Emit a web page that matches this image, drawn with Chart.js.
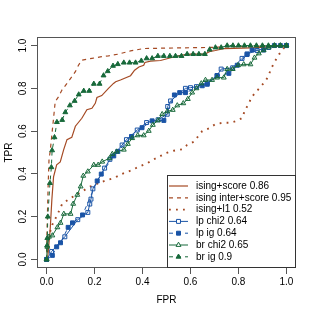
<!DOCTYPE html>
<html><head><meta charset="utf-8">
<script src="https://cdn.jsdelivr.net/npm/chart.js@4/dist/chart.umd.min.js"></script>
<style>html,body{margin:0;padding:0;background:#fff}canvas{display:block}</style>
</head><body>
<canvas id="c" width="315" height="315"></canvas>
<script>
const seriesLabels = ['ising+score 0.86','ising inter+score 0.95','ising+l1 0.52','lp chi2 0.64','lp ig 0.64','br chi2 0.65','br ig 0.9'];
const xTicks = [0,0.2,0.4,0.6,0.8,1.0];
const xTickLabels = ['0.0','0.2','0.4','0.6','0.8','1.0'];
const yTicks = [0,0.2,0.4,0.6,0.8,1.0];
const yTickLabels = ['0.0','0.2','0.4','0.6','0.8','1.0'];
const xTitle = 'FPR';
const yTitle = 'TPR';

const isingScoreFpr = [0,0.004,0.015,0.022,0.029,0.042,0.057,0.071,0.085,0.105,0.12,0.147,0.168,0.189,0.203,0.21,0.23,0.258,0.279,0.288,0.308,0.35,0.367,0.385,0.405,0.41,0.433,0.475,0.5375,0.565,0.6,0.66,0.683,0.704,0.7375,0.78,0.85,0.92,1.0];
const isingScoreTpr = [0,0,0.14,0.28,0.386,0.442,0.456,0.512,0.56,0.571,0.623,0.66,0.70,0.707,0.73,0.757,0.766,0.80,0.823,0.831,0.839,0.859,0.885,0.90,0.908,0.921,0.927,0.93,0.949,0.955,0.96,0.96,0.973,0.977,0.986,0.987,0.989,0.992,1.0];

const isingInterFpr = [0,0.002,0.006,0.01,0.015,0.022,0.029,0.036,0.05,0.064,0.085,0.105,0.12,0.133,0.147,0.189,0.224,0.258,0.30,0.35,0.405,0.447,0.545,0.6625,1.0];
const isingInterTpr = [0,0.14,0.326,0.465,0.506,0.583,0.66,0.738,0.761,0.792,0.823,0.854,0.878,0.908,0.932,0.94,0.947,0.952,0.96,0.975,0.986,0.987,0.989,0.991,1.0];

const isingL1Fpr = [0,0.008,0.017,0.024,0.045,0.065,0.1,0.142,0.176,0.218,0.253,0.28,0.315,0.35,0.392,0.42,0.447,0.475,0.503,0.53,0.565,0.586,0.614,0.649,0.68,0.704,0.735,0.767,0.795,0.818,0.826,0.843,0.853,0.875,0.895,0.915,0.928,0.94,0.954,0.97,0.99,1.0];
const isingL1Tpr = [0,0.093,0.14,0.163,0.209,0.26,0.287,0.313,0.338,0.357,0.372,0.38,0.40,0.415,0.437,0.45,0.468,0.484,0.499,0.508,0.515,0.535,0.55,0.6,0.614,0.633,0.639,0.639,0.648,0.663,0.698,0.726,0.757,0.785,0.811,0.837,0.868,0.9,0.93,0.96,0.989,1.0];

const lpChi2Fpr = [0,0.021,0.076,0.13,0.172,0.18,0.185,0.193,0.242,0.264,0.315,0.333,0.378,0.417,0.465,0.503,0.505,0.517,0.579,0.60,0.625,0.67,0.711,0.728,0.776,0.815,0.836,0.878,0.926,0.975,1];
const lpChi2Tpr = [0,0.037,0.106,0.186,0.22,0.259,0.282,0.33,0.427,0.468,0.535,0.56,0.605,0.64,0.653,0.679,0.715,0.741,0.80,0.803,0.808,0.825,0.86,0.89,0.896,0.94,0.961,0.977,0.991,1,1];

const lpIgFpr = [0,0.024,0.042,0.058,0.09,0.108,0.15,0.211,0.228,0.28,0.297,0.354,0.398,0.44,0.489,0.533,0.555,0.579,0.649,0.67,0.711,0.76,0.795,0.836,0.857,0.905,0.95,1];
const lpIgTpr = [0,0.019,0.059,0.078,0.15,0.171,0.208,0.367,0.399,0.484,0.505,0.575,0.616,0.648,0.65,0.769,0.78,0.78,0.812,0.819,0.859,0.87,0.908,0.958,0.979,0.979,1,1];

const brChi2Fpr = [0,0.003,0.01,0.024,0.045,0.058,0.072,0.10,0.111,0.128,0.142,0.153,0.172,0.197,0.215,0.232,0.2625,0.274,0.292,0.322,0.339,0.357,0.38,0.405,0.426,0.443,0.464,0.482,0.503,0.526,0.545,0.57,0.589,0.607,0.625,0.645,0.6625,0.69,0.711,0.739,0.753,0.776,0.799,0.822,0.85,0.867,0.885,0.905,0.926,0.95,0.975,1];
const brChi2Tpr = [0,0.059,0.106,0.112,0.15,0.171,0.213,0.213,0.26,0.302,0.341,0.391,0.411,0.442,0.442,0.457,0.473,0.493,0.504,0.513,0.54,0.567,0.58,0.58,0.601,0.629,0.65,0.679,0.692,0.699,0.72,0.73,0.75,0.78,0.80,0.823,0.839,0.839,0.85,0.85,0.89,0.89,0.908,0.912,0.912,0.943,0.963,0.978,0.991,1,1,1];

const brIgFpr = [0,0.002,0.003,0.005,0.014,0.02,0.023,0.033,0.043,0.065,0.078,0.097,0.117,0.134,0.155,0.178,0.197,0.221,0.2375,0.255,0.277,0.297,0.322,0.346,0.371,0.395,0.417,0.44,0.464,0.489,0.514,0.5375,0.5625,0.586,0.611,0.635,0.66,0.68,0.704,0.728,0.753,0.777,0.80,0.825,0.85,0.875,0.90,0.925,0.95,0.975,1.0];
const brIgTpr = [0,0.065,0.10,0.20,0.357,0.431,0.51,0.571,0.642,0.652,0.688,0.72,0.741,0.771,0.788,0.788,0.821,0.821,0.86,0.88,0.905,0.913,0.92,0.92,0.92,0.929,0.94,0.94,0.951,0.951,0.951,0.951,0.951,0.96,0.96,0.96,0.96,0.981,0.991,0.991,1,1,1,1,1,1,1,1,1,1,1];

const BROWN = '#a54a24';
const BLUE = '#1a54a6';
const GREEN = '#17693a';
const FONT = '"Liberation Sans", Arial, Helvetica, sans-serif';

function pts(xs, ys){ return xs.map((x,i)=>({x:x, y:ys[i]})); }

const styles = [
  {color:BROWN, dash:[], width:1.2, pointStyle:false, fill:false},
  {color:BROWN, dash:[4,4], width:1.2, pointStyle:false, fill:false},
  {color:BROWN, dash:[1.8,5.2], width:1.9, pointStyle:false, fill:false},
  {color:BLUE, dash:[], width:1, pointStyle:'rect', fill:false, radius:2.8},
  {color:BLUE, dash:[4,4], width:1, pointStyle:'rect', fill:true, radius:2.8},
  {color:GREEN, dash:[], width:1, pointStyle:'triangle', fill:false, radius:2.8},
  {color:GREEN, dash:[4,4], width:1, pointStyle:'triangle', fill:true, radius:2.8}
];
const seriesData = [
  pts(isingScoreFpr, isingScoreTpr),
  pts(isingInterFpr, isingInterTpr),
  pts(isingL1Fpr, isingL1Tpr),
  pts(lpChi2Fpr, lpChi2Tpr),
  pts(lpIgFpr, lpIgTpr),
  pts(brChi2Fpr, brChi2Tpr),
  pts(brIgFpr, brIgTpr)
];

const datasets = seriesData.map((d,i)=>{
  const s = styles[i];
  return {
    label: seriesLabels[i],
    data: d,
    showLine: true,
    tension: 0,
    borderColor: s.color,
    borderWidth: s.width,
    borderDash: s.dash,
    backgroundColor: s.fill ? s.color : 'rgba(0,0,0,0)',
    pointStyle: s.pointStyle || 'circle',
    pointRadius: s.pointStyle ? s.radius : 0,
    pointBorderColor: s.color,
    pointBackgroundColor: s.fill ? s.color : 'rgba(0,0,0,0)',
    pointBorderWidth: 1,
    order: 10 - i
  };
});

const framePlugin = {
  id: 'frameLegend',
  afterDraw(chart){
    const ctx = chart.ctx;
    const a = chart.chartArea;
    ctx.save();
    ctx.strokeStyle = '#555';
    ctx.lineWidth = 1;
    ctx.setLineDash([]);
    ctx.strokeRect(a.left + 0.5, a.top + 0.5, a.right - a.left - 1, a.bottom - a.top - 1);
    const ys = chart.scales.y;
    ctx.fillStyle = '#000';
    ctx.font = '10px ' + FONT;
    ctx.textAlign = 'center';
    ctx.textBaseline = 'middle';
    yTicks.forEach((v,i)=>{
      const py = ys.getPixelForValue(v);
      ctx.save();
      ctx.translate(23, py);
      ctx.rotate(-Math.PI/2);
      ctx.fillText(yTickLabels[i], 0, 0);
      ctx.restore();
    });
    const lw = 129, lh = 93;
    const lx = a.right - lw, ly = a.bottom - lh;
    ctx.fillStyle = '#fff';
    ctx.fillRect(lx, ly, lw, lh);
    ctx.strokeStyle = '#333';
    ctx.lineWidth = 1;
    ctx.strokeRect(lx + 0.5, ly + 0.5, lw - 1, lh - 1);
    const rowH = 11.8;
    chart.data.datasets.forEach((ds,i)=>{
      const s = styles[i];
      const cy = ly + 11 + i*rowH;
      const x0 = lx + 2, x1 = lx + 21;
      ctx.strokeStyle = s.color;
      ctx.lineWidth = s.width;
      ctx.setLineDash(s.dash);
      ctx.beginPath();
      ctx.moveTo(x0, cy);
      ctx.lineTo(x1, cy);
      ctx.stroke();
      ctx.setLineDash([]);
      if (s.pointStyle) {
        ctx.fillStyle = s.fill ? s.color : '#fff';
        ctx.strokeStyle = s.color;
        ctx.lineWidth = 1;
        Chart.helpers.drawPoint(ctx, {pointStyle: s.pointStyle, radius: s.radius, borderWidth: 1, rotation: 0}, (x0+x1)/2, cy);
      }
      ctx.fillStyle = '#000';
      ctx.font = '10px ' + FONT;
      ctx.textAlign = 'left';
      ctx.textBaseline = 'middle';
      ctx.fillText(ds.label, lx + 29, cy);
    });
    ctx.restore();
  }
};

new Chart(document.getElementById('c'), {
  type: 'scatter',
  data: { datasets: datasets },
  options: {
    responsive: false,
    devicePixelRatio: 1,
    animation: false,
    layout: { padding: { top: 37, right: 19, left: 0, bottom: 0 } },
    plugins: { legend: { display: false }, tooltip: { enabled: false } },
    scales: {
      x: {
        type: 'linear', min: -0.04, max: 1.04,
        afterBuildTicks: s => { s.ticks = xTicks.map(v => ({value: v})); },
        afterFit: s => { s.height = 47; },
        ticks: { color: '#000', font: { size: 10, family: FONT }, padding: 2,
                 maxRotation: 0, minRotation: 0,
                 callback: (v) => { const k = xTicks.indexOf(v); return k >= 0 ? xTickLabels[k] : ''; } },
        grid: { drawOnChartArea: false, drawTicks: true, tickLength: 6, color: '#555' },
        border: { display: false },
        title: { display: true, text: xTitle, color: '#000', font: { size: 10, family: FONT }, padding: { bottom: 9, top: 0 } }
      },
      y: {
        type: 'linear', min: -0.04, max: 1.04,
        afterBuildTicks: s => { s.ticks = yTicks.map(v => ({value: v})); },
        afterFit: s => { s.width = 37; },
        ticks: { display: false },
        grid: { drawOnChartArea: false, drawTicks: true, tickLength: 6, color: '#555' },
        border: { display: false },
        title: { display: true, text: yTitle, color: '#000', font: { size: 10, family: FONT }, padding: { top: 3, bottom: 0 } }
      }
    }
  },
  plugins: [framePlugin]
});
</script>
</body></html>
